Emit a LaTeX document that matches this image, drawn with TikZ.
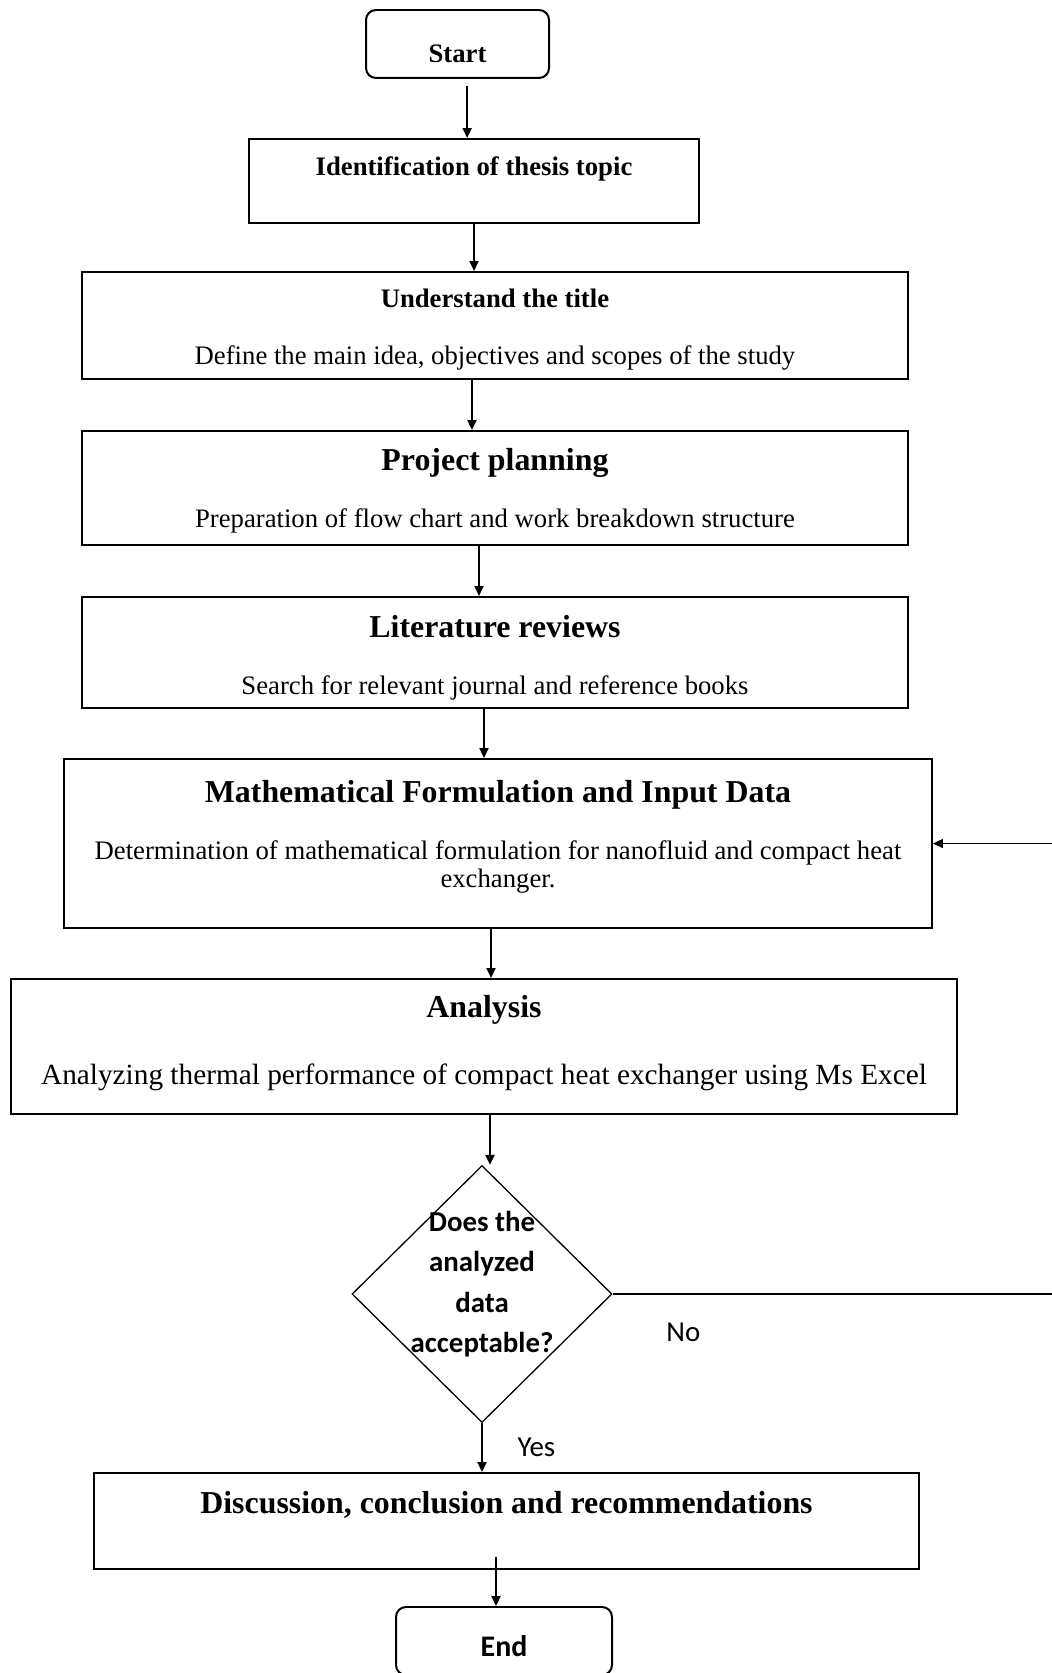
\documentclass[tikz,border=0pt]{standalone}
\usepackage{fontspec}
\setmainfont{Liberation Serif}
\newfontfamily\calfont{Carlito}
\usetikzlibrary{arrows.meta, shapes.geometric, calc}

\tikzset{
  termbox/.style={draw, line width=1pt, rounded corners=5pt, inner sep=3pt},
  stepbox/.style={draw, line width=1pt, align=center, inner sep=3pt, text depth=0pt,
                  font=\fontsize{13.4}{16}\selectfont},
  decbox/.style={draw, diamond, aspect=1, line width=0.65pt, inner sep=-2pt, align=center,
                 font=\calfont\bfseries\fontsize{14.5}{20.3}\selectfont},
  arr/.style={-{Triangle[length=5pt,width=4.5pt]}, line width=1pt},
  loopline/.style={-{Triangle[length=5pt,width=4.5pt]}, line width=0.8pt},
  lbl/.style={font=\calfont\fontsize{14.5}{16}\selectfont},
}
\newcommand{\steptitle}[1]{{\fontsize{16}{16}\selectfont\bfseries #1}}

\begin{document}
\begin{tikzpicture}
  \useasboundingbox (0,0) rectangle (18.556,-29.510);

  % Start and first step
  \node[termbox, minimum width=3.228cm, minimum height=1.199cm, text height=19pt, text depth=0pt,
        font=\fontsize{13.4}{13.4}\selectfont\bfseries] (start) at (8.070,-0.776) {Start};
  \node[stepbox, minimum width=7.937cm, minimum height=1.482cm, text height=0pt, text depth=6pt] (ident) at (8.361,-3.193)
    {\textbf{Identification of thesis topic}};

  % Main steps
  \node[stepbox, minimum width=14.570cm, minimum height=1.887cm, text height=39.5pt] (und) at (8.731,-5.741)
    {\textbf{Understand the title}\\[13pt]Define the main idea, objectives and scopes of the study};
  \node[stepbox, minimum width=14.570cm, minimum height=2.011cm, text height=40pt] (plan) at (8.731,-8.608)
    {\steptitle{Project planning}\\[13pt]Preparation of flow chart and work breakdown structure};
  \node[stepbox, minimum width=14.570cm, minimum height=1.958cm, text height=42.5pt] (lit) at (8.731,-11.509)
    {\steptitle{Literature reviews}\\[13pt]Search for relevant journal and reference books};
  \node[stepbox, minimum width=15.311cm, minimum height=2.981cm, text height=44.5pt] (math) at (8.784,-14.879)
    {\steptitle{Mathematical Formulation and Input Data}\\[13pt]Determination of mathematical formulation for nanofluid and compact heat\\[-2pt]exchanger.};
  \node[stepbox, minimum width=16.686cm, minimum height=2.381cm, text height=38.5pt] (anal) at (8.537,-18.459)
    {\steptitle{Analysis}\\[18pt]{\fontsize{14.7}{16}\selectfont Analyzing thermal performance of compact heat exchanger using Ms Excel}};

  % Decision
  \node[decbox, minimum width=4.586cm, minimum height=4.533cm, text height=59pt, text depth=0pt] (dec) at (8.502,-22.825)
    {Does the\\analyzed\\data\\acceptable?};

  % Closing steps
  \node[stepbox, minimum width=14.552cm, minimum height=1.693cm, text height=0pt, text depth=8pt] (disc) at (8.934,-26.829)
    {\steptitle{Discussion, conclusion and recommendations}};
  \node[termbox, minimum width=3.810cm, minimum height=1.199cm, text height=16pt, text depth=0pt,
        font=\calfont\bfseries\fontsize{15}{15}\selectfont] (end) at (8.890,-28.945) {End};

  \coordinate (rim) at (18.86,0);

  % Arrows
  \draw[arr] ([xshift=0.17cm,yshift=-0.12cm]start.south) -- ([xshift=0.17cm]start.south |- ident.north);
  \draw[arr] (ident.south) -- (ident.south |- und.north);
  \draw[arr] ([xshift=-0.406cm]und.south) -- ([xshift=-0.406cm]und.south |- plan.north);
  \draw[arr] ([xshift=-0.282cm]plan.south) -- ([xshift=-0.282cm]plan.south |- lit.north);
  \draw[arr] ([xshift=-0.194cm]lit.south) -- ([xshift=-0.194cm]lit.south |- math.north);
  \draw[arr] ([xshift=-0.123cm]math.south) -- ([xshift=-0.123cm]math.south |- anal.north);
  \draw[arr] ([xshift=0.106cm]anal.south) -- ([xshift=0.106cm]anal.south |- dec.north);
  \draw[arr] (dec.south) -- node[lbl, right=14pt]{Yes} (dec.south |- disc.north);
  \draw[arr] ([xshift=-0.185cm,yshift=0.229cm]disc.south) -- ([xshift=-0.185cm]disc.south |- end.north);

  % Loop back
  \draw[loopline] (dec.east) -- node[lbl, pos=0.155, below=11pt]{No} (dec.east -| rim) |- (math.east);
\end{tikzpicture}
\end{document}
